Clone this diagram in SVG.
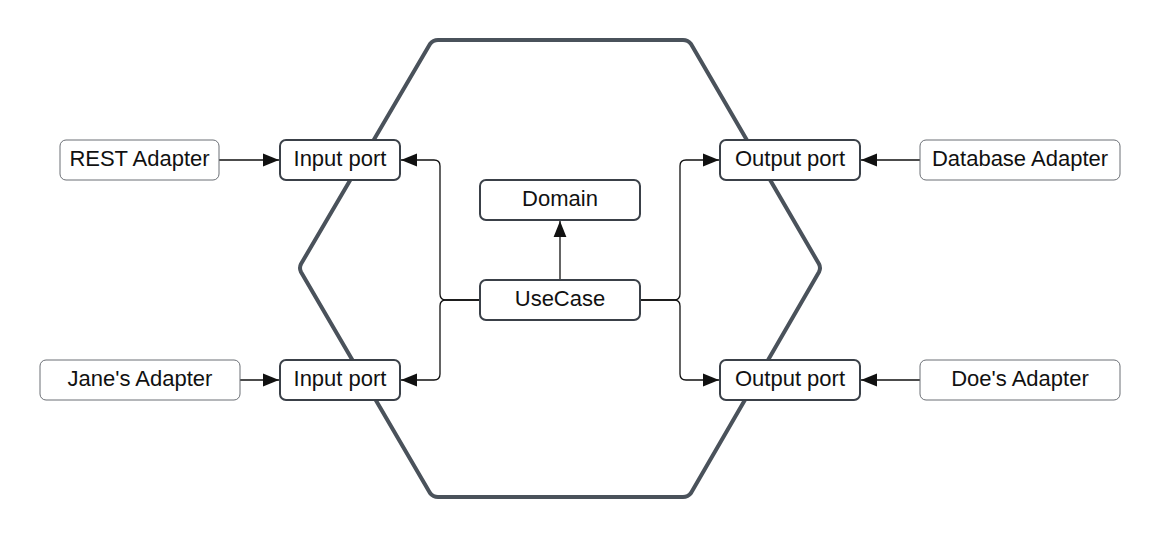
<svg xmlns="http://www.w3.org/2000/svg" width="1160" height="540" viewBox="0 0 1160 540">
<style>
.hex{fill:none;stroke:#4a525b;stroke-width:4;stroke-linejoin:round}
.ad{fill:#fff;stroke:#6b6f75;stroke-width:1}
.pt{fill:#fff;stroke:#3a4048;stroke-width:2}
.t{font-family:"Liberation Sans",Arial,sans-serif;font-size:22px;fill:#111;text-anchor:middle;dominant-baseline:central}
.c{fill:none;stroke:#111;stroke-width:1.3}
</style>
<defs>
<marker id="ah" viewBox="0 0 10 10" refX="10" refY="5" markerWidth="16" markerHeight="16" markerUnits="userSpaceOnUse" orient="auto">
<path d="M0,1 L10,5 L0,9 Z" fill="#111"/>
</marker>
</defs>
<path class="hex" d="M301,264 L430,44 Q433,40 438,40 L683,40 Q688,40 691,44 L819,264 Q821,268 819,272 L691,493 Q688,497 683,497 L438,497 Q433,497 430,493 L301,272 Q299,268 301,264 Z"/>
<g id="connectors">
<path class="c" d="M219,160 L279,160" marker-end="url(#ah)"/>
<path class="c" d="M240,380 L279,380" marker-end="url(#ah)"/>
<path class="c" d="M560,280 L560,221" marker-end="url(#ah)"/>
<path class="c" d="M480,300 L446,300 Q440,300 440,294 L440,166 Q440,160 434,160 L401,160" marker-end="url(#ah)"/>
<path class="c" d="M480,300 L446,300 Q440,300 440,306 L440,374 Q440,380 434,380 L401,380" marker-end="url(#ah)"/>
<path class="c" d="M640,300 L674,300 Q680,300 680,294 L680,166 Q680,160 686,160 L719,160" marker-end="url(#ah)"/>
<path class="c" d="M640,300 L674,300 Q680,300 680,306 L680,374 Q680,380 686,380 L719,380" marker-end="url(#ah)"/>
<path class="c" d="M920,160 L861,160" marker-end="url(#ah)"/>
<path class="c" d="M920,380 L861,380" marker-end="url(#ah)"/>
</g>
<g id="rest"><rect class="ad" x="60" y="140" width="159" height="40" rx="6"/><text class="t" x="139.5" y="158">REST Adapter</text></g>
<g id="jane"><rect class="ad" x="40" y="360" width="200" height="40" rx="6"/><text class="t" x="140" y="378">Jane's Adapter</text></g>
<g id="in1"><rect class="pt" x="280" y="140" width="120" height="40" rx="6"/><text class="t" x="340" y="158">Input port</text></g>
<g id="in2"><rect class="pt" x="280" y="360" width="120" height="40" rx="6"/><text class="t" x="340" y="378">Input port</text></g>
<g id="domain"><rect class="pt" x="480" y="180" width="160" height="40" rx="6"/><text class="t" x="560" y="198">Domain</text></g>
<g id="usecase"><rect class="pt" x="480" y="280" width="160" height="40" rx="6"/><text class="t" x="560" y="298">UseCase</text></g>
<g id="out1"><rect class="pt" x="720" y="140" width="140" height="40" rx="6"/><text class="t" x="790" y="158">Output port</text></g>
<g id="out2"><rect class="pt" x="720" y="360" width="140" height="40" rx="6"/><text class="t" x="790" y="378">Output port</text></g>
<g id="db"><rect class="ad" x="920" y="140" width="200" height="40" rx="6"/><text class="t" x="1020" y="158">Database Adapter</text></g>
<g id="doe"><rect class="ad" x="920" y="360" width="200" height="40" rx="6"/><text class="t" x="1020" y="378">Doe's Adapter</text></g>
</svg>
